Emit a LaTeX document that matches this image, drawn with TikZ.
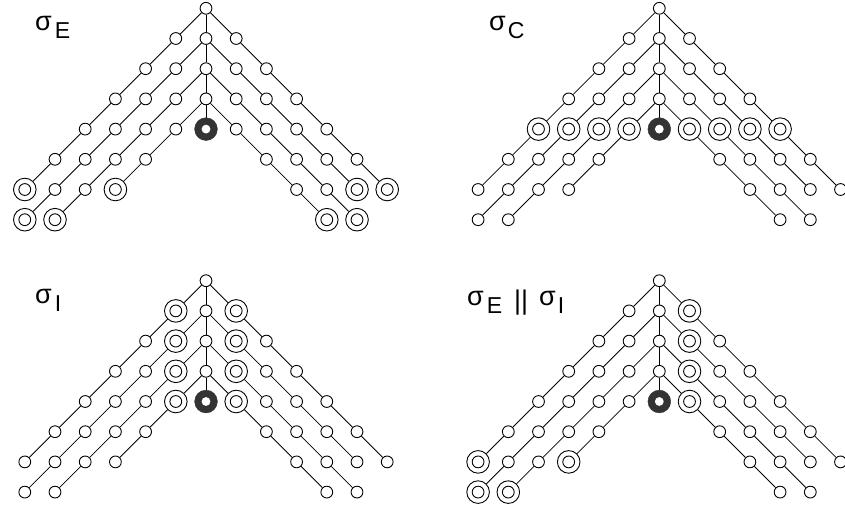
\documentclass[tikz,border=0pt]{standalone}
\usepackage{fontspec}
\setmainfont{Liberation Sans}
\usetikzlibrary{backgrounds}

\definecolor{ringgray}{RGB}{51,51,51}

\tikzset{
  dot/.style={circle, draw, fill=white, line width=0.9pt, minimum size=11.8pt, inner sep=0pt},
  dblnode/.style={circle, draw, fill=white, line width=0.9pt, minimum size=22.6pt, inner sep=0pt,
    path picture={\draw[line width=0.9pt] (path picture bounding box.center) circle[radius=5.9pt];}},
  hub/.style={circle, draw=ringgray, fill=ringgray, minimum size=22.8pt, inner sep=0pt,
    path picture={\fill[white] (path picture bounding box.center) circle[radius=4.4pt];}},
  link/.style={line width=0.8pt},
  caption/.style={anchor=base west, inner sep=0pt, font=\fontsize{27}{27}\selectfont},
}

% grid step of the lattice
\def\s{30.2}

% subscript set lower and a little smaller
\newcommand\subidx[1]{\raisebox{-8pt}{\fontsize{23}{23}\selectfont #1}}

% nodes flagged with \markdbl are drawn as double circles
\newcommand\markdbl[1]{\expandafter\gdef\csname dbl@#1\endcsname{}}
\newcommand\mknode[2]{%
  \ifcsname dbl@#1\endcsname
    \node[dblnode] (#1) at (#2) {};%
  \else
    \node[dot] (#1) at (#2) {};%
  \fi}

% one lattice: prefix, root x, root y
\newcommand\lattice[3]{%
  \begin{scope}[shift={(#2,#3)}]
    \foreach \i in {0,...,3} {\mknode{#1-V\i}{{0},{\i*\s}}}
    \node[hub] (#1-V4) at (0,{4*\s}) {};
    \foreach \k/\n in {1/6,2/6,3/5,4/3} {
      \foreach \j in {1,...,\n} {\mknode{#1-L\k-\j}{{-\j*\s},{(\k-1+\j)*\s}}}}
    \foreach \k/\n in {1/6,2/5,3/5,4/4} {
      \foreach \j in {1,...,\n} {\mknode{#1-R\k-\j}{{\j*\s},{(\k-1+\j)*\s}}}}
    \begin{scope}[on background layer]
      \draw[link] (#1-V0) -- (#1-V1) -- (#1-V2) -- (#1-V3) -- (#1-V4);
      \foreach \side/\k/\n in {L/1/6,L/2/6,L/3/5,L/4/3,R/1/6,R/2/5,R/3/5,R/4/4} {
        \pgfmathtruncatemacro\st{\k-1}
        \draw[link] (#1-V\st) -- (#1-\side\k-1);
        \foreach \j in {2,...,\n} {
          \pgfmathtruncatemacro\pj{\j-1}
          \draw[link] (#1-\side\k-\pj) -- (#1-\side\k-\j);
        }
      }
    \end{scope}
  \end{scope}}

% leaves
\foreach \p in {E,EI} {
  \foreach \m in {L1-6,L2-6,L3-5,L4-3} {\markdbl{\p-\m}}}
\foreach \m in {R1-6,R2-5,R3-5,R4-4} {\markdbl{E-\m}}
% fourth row
\foreach \m in {L1-4,L2-3,L3-2,L4-1,R1-4,R2-3,R3-2,R4-1} {\markdbl{C-\m}}
% nodes next to the spine
\foreach \m in {L1-1,L2-1,L3-1,L4-1,R1-1,R2-1,R3-1,R4-1} {\markdbl{I-\m}}
\foreach \m in {R1-1,R2-1,R3-1,R4-1} {\markdbl{EI-\m}}

\begin{document}
\begin{tikzpicture}[x=1pt, y=-1pt]
  \useasboundingbox (0,0) rectangle (845,506);
  \clip (0,0) rectangle (845,506);

  \lattice{E}{206}{8.3}
  \lattice{C}{659.3}{8.3}
  \lattice{I}{206}{280.7}
  \lattice{EI}{659.3}{280.7}

  \node[caption] (capE) at (35,30) {σ\hspace{3pt}\subidx{E}};
  \node[caption] (capC) at (489,30) {σ\hspace{2pt}\subidx{C}};
  \node[caption] (capI) at (35,303) {σ\hspace{3pt}\subidx{I}};
  \node[caption] (capEI) at (467,305) {σ\hspace{3pt}\subidx{E}\hspace{12pt}\raisebox{-4.5pt}{\fontsize{27}{27}\selectfont||}\hspace{11pt}σ\hspace{2pt}\subidx{I}};
\end{tikzpicture}
\end{document}
